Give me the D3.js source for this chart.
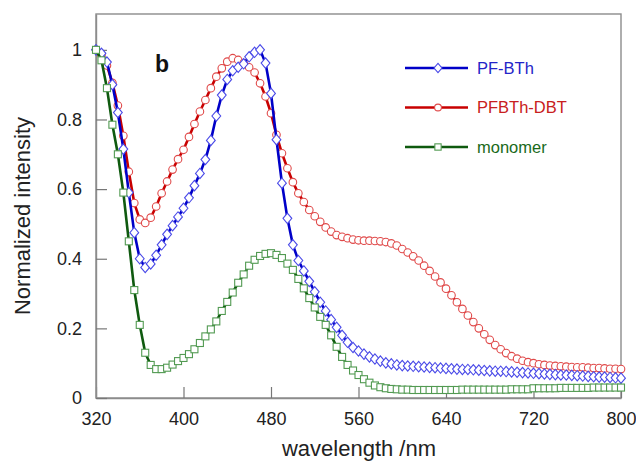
<!DOCTYPE html>
<html>
<head>
<meta charset="utf-8">
<script src="https://cdn.jsdelivr.net/npm/d3@7/dist/d3.min.js"></script>
<style>
  body { margin: 0; background: #fff; }
  svg { display: block; font-family: "Liberation Sans", Arial, sans-serif; }
</style>
</head>
<body>
<svg id="chart" width="636" height="463"></svg>
<script>
// sampling grid (nm), every 5 nm
const wavelengths = d3.range(320, 801, 5);

const pfBTh = [
  1.0, 0.99, 0.965, 0.9, 0.82, 0.715, 0.59, 0.475, 0.40, 0.375,
  0.385, 0.41, 0.44, 0.47, 0.495, 0.52, 0.545, 0.575, 0.61, 0.645,
  0.685, 0.74, 0.81, 0.87, 0.915, 0.94, 0.95, 0.96, 0.98, 0.993,
  1.0, 0.962, 0.875, 0.742, 0.617, 0.516, 0.44, 0.395, 0.365, 0.335,
  0.305, 0.275, 0.25, 0.225, 0.203, 0.18, 0.16, 0.145, 0.135, 0.126,
  0.118, 0.112, 0.106, 0.101, 0.098, 0.095, 0.093, 0.092, 0.091, 0.09,
  0.089, 0.088, 0.087, 0.086, 0.085, 0.084, 0.083, 0.082, 0.082, 0.081,
  0.08, 0.079, 0.078, 0.077, 0.077, 0.076, 0.075, 0.074, 0.073, 0.072,
  0.071, 0.07, 0.069, 0.068, 0.067, 0.066, 0.066, 0.065, 0.064, 0.063,
  0.062, 0.061, 0.06, 0.06, 0.059, 0.058, 0.057
];

const pfbthDBT = [
  1.0, 0.985, 0.955, 0.905, 0.84, 0.753, 0.65, 0.56, 0.513, 0.503,
  0.518, 0.55, 0.588, 0.622, 0.656, 0.686, 0.713, 0.75, 0.787, 0.823,
  0.856, 0.89, 0.923, 0.947, 0.966, 0.976, 0.971, 0.962, 0.95, 0.935,
  0.904, 0.866, 0.818, 0.756, 0.703, 0.66, 0.62, 0.588, 0.563, 0.54,
  0.522, 0.506, 0.49, 0.478, 0.468, 0.463, 0.459, 0.455, 0.453, 0.452,
  0.452, 0.451, 0.45, 0.448, 0.444, 0.438, 0.428, 0.418, 0.407, 0.395,
  0.38, 0.365, 0.349, 0.332, 0.314, 0.295, 0.275, 0.256, 0.237, 0.218,
  0.2, 0.183, 0.167, 0.152, 0.14, 0.129, 0.12, 0.113, 0.107, 0.103,
  0.1, 0.097, 0.095, 0.093, 0.092, 0.091, 0.09, 0.089, 0.088, 0.088,
  0.087, 0.086, 0.086, 0.085, 0.084, 0.084, 0.083
];

const monomer = [
  1.0, 0.97, 0.89, 0.785, 0.70, 0.59, 0.45, 0.31, 0.21, 0.13,
  0.095, 0.083, 0.083, 0.087, 0.096, 0.106, 0.115, 0.126, 0.14, 0.158,
  0.177, 0.197, 0.22, 0.25, 0.276, 0.303, 0.331, 0.355, 0.38, 0.397,
  0.408, 0.414, 0.416, 0.411, 0.402, 0.386, 0.368, 0.342, 0.315, 0.287,
  0.26, 0.233, 0.21, 0.18, 0.147, 0.118, 0.095, 0.079, 0.066, 0.054,
  0.044, 0.036, 0.031, 0.028, 0.026, 0.025, 0.024, 0.024, 0.023, 0.023,
  0.023, 0.023, 0.023, 0.023, 0.023, 0.023, 0.023, 0.024, 0.024, 0.024,
  0.024, 0.024, 0.024, 0.024, 0.024, 0.024, 0.025, 0.025, 0.025, 0.025,
  0.028, 0.028, 0.028, 0.028, 0.028, 0.029, 0.029, 0.029, 0.029, 0.029,
  0.029, 0.03, 0.03, 0.03, 0.03, 0.03, 0.03
];

const xTicks = [320, 400, 480, 560, 640, 720, 800];
const yTicks = [0, 0.2, 0.4, 0.6, 0.8, 1];
const seriesNames = ['PF-BTh', 'PFBTh-DBT', 'monomer'];

const margin = {left: 96, top: 14, right: 15, bottom: 65};
const width = 636 - margin.left - margin.right;
const height = 463 - margin.top - margin.bottom;

const x = d3.scaleLinear().domain([320, 800]).range([0, width]);
const y = d3.scaleLinear().domain([0, 1.103]).range([height, 0]);

const svg = d3.select('#chart');
const g = svg.append('g').attr('transform', `translate(${margin.left},${margin.top})`);

// frame
g.append('rect')
    .attr('width', width)
    .attr('height', height)
    .attr('fill', 'none')
    .attr('stroke', '#8c8c8c')
    .attr('stroke-width', 1.4);

const xAxis = d3.axisBottom(x).tickValues(xTicks).tickSizeInner(-11).tickSizeOuter(0).tickPadding(14);
const yAxis = d3.axisLeft(y).tickValues(yTicks).tickSizeInner(-11).tickSizeOuter(0).tickPadding(14)
    .tickFormat(d => d === 0 ? '0' : d === 1 ? '1' : d3.format('.1f')(d));

const gx = g.append('g').attr('transform', `translate(0,${height})`).call(xAxis);
const gy = g.append('g').call(yAxis);
[gx, gy].forEach(ax => {
    ax.select('.domain').attr('stroke', '#8c8c8c').attr('stroke-width', 1.4);
    ax.selectAll('.tick line').attr('stroke', '#777').attr('stroke-width', 1.2);
    ax.selectAll('.tick text').attr('font-size', 18).attr('fill', '#222')
        .attr('font-family', '"Liberation Sans", Arial, sans-serif');
});

const series = [
    {name: seriesNames[0], values: pfBTh, line: '#0000c8', mark: '#4a4ae8', text: '#2424c8', shape: 'diamond'},
    {name: seriesNames[1], values: pfbthDBT, line: '#c80000', mark: '#e04a4a', text: '#c82020', shape: 'circle'},
    {name: seriesNames[2], values: monomer, line: '#0f5a0f', mark: '#529a52', text: '#1a6a1a', shape: 'square'}
];

const drawOrder = [series[1], series[0], series[2]];

const line = d3.line().x(d => x(d[0])).y(d => y(d[1]));

const marker = (sel, s, k = 1) => {
    if (s.shape === 'diamond') {
        sel.append('path').attr('d', `M0,${-5.2 * k}L${4.4 * k},0L0,${5.2 * k}L${-4.4 * k},0Z`);
    } else if (s.shape === 'circle') {
        sel.append('circle').attr('r', 3.8 * k);
    } else {
        sel.append('rect').attr('x', -3.5 * k).attr('y', -3.5 * k).attr('width', 7 * k).attr('height', 7 * k);
    }
    sel.selectAll('path, circle, rect')
        .attr('fill', '#fff')
        .attr('stroke', s.mark)
        .attr('stroke-width', 1.1);
};

drawOrder.forEach(s => {
    const pts = wavelengths.map((w, i) => [w, s.values[i]]);
    g.append('path')
        .datum(pts)
        .attr('fill', 'none')
        .attr('stroke', s.line)
        .attr('stroke-width', 2.6)
        .attr('d', line);
    g.append('g').selectAll('g')
        .data(pts)
        .join('g')
        .attr('transform', d => `translate(${x(d[0])},${y(d[1])})`)
        .each(function () { marker(d3.select(this), s); });
});

// panel label
g.append('text')
    .attr('x', 59)
    .attr('y', 58)
    .attr('font-size', 23)
    .attr('font-weight', 'bold')
    .attr('fill', '#111')
    .text('b');

// legend
const legend = g.append('g').attr('transform', 'translate(309,54)');
series.forEach((s, i) => {
    const row = legend.append('g').attr('transform', `translate(0,${i * 39.5})`);
    row.append('line')
        .attr('x1', 0).attr('x2', 63)
        .attr('stroke', s.line)
        .attr('stroke-width', 2.4);
    const m = row.append('g').attr('transform', 'translate(33,0)');
    marker(m, s, 0.9);
    row.append('text')
        .attr('x', 72)
        .attr('dy', '0.35em')
        .attr('font-size', 16.5)
        .attr('fill', s.text)
        .text(s.name);
});

// axis titles
svg.append('text')
    .attr('x', margin.left + width / 2 + 0.5)
    .attr('y', 456)
    .attr('text-anchor', 'middle')
    .attr('font-size', 22)
    .attr('fill', '#222')
    .text('wavelength /nm');

svg.append('text')
    .attr('transform', 'translate(30,216) rotate(-90)')
    .attr('text-anchor', 'middle')
    .attr('font-size', 22)
    .attr('fill', '#222')
    .text('Normalized intensity');
</script>
</body>
</html>
